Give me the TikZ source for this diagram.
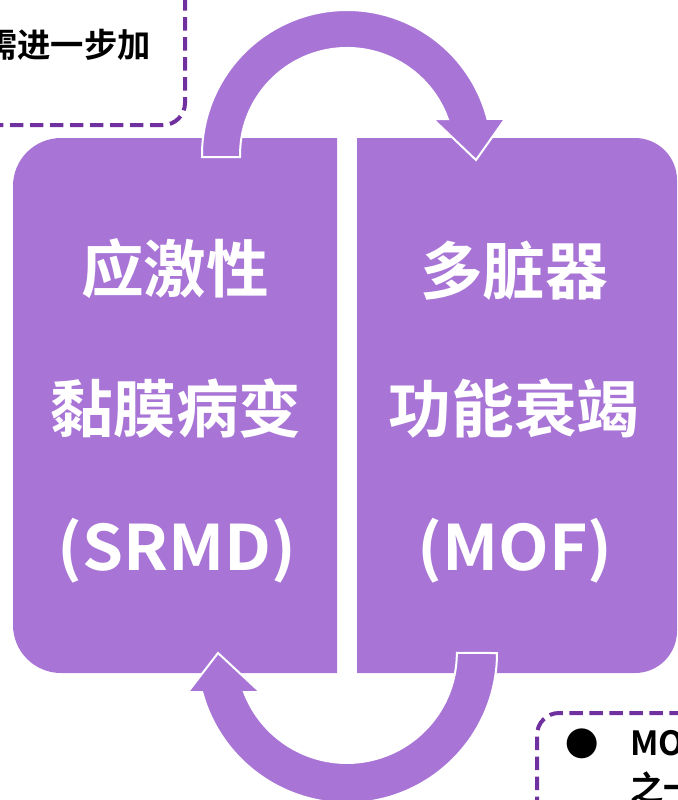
\documentclass[tikz,border=0pt]{standalone}
\usepackage{fontspec}
\newfontfamily\cjk{Noto Sans CJK SC}[BoldFont={Noto Sans CJK SC Bold}]
\definecolor{boxpurple}{HTML}{A875D6}
\definecolor{dashpurple}{HTML}{7030A0}
\begin{document}
\begin{tikzpicture}[x=0.75pt,y=-0.75pt,
  panel/.style={fill=boxpurple},
  cyclearrow/.style={fill=boxpurple,draw=white,line width=1.5pt,line join=miter},
  callout/.style={draw=dashpurple,line width=3pt,dash pattern=on 10pt off 5pt},
  bigtext/.style={text=white,font=\cjk\bfseries\fontsize{47}{50}\selectfont,inner sep=0pt},
  notetext/.style={text=black,font=\cjk\bfseries\fontsize{25}{28}\selectfont,inner sep=0pt}]
\useasboundingbox (0,0) rectangle (678,800);
\clip (0,0) rectangle (678,800);
% panels
\path[panel] (337,138) -- (61,138) arc[start angle=270,end angle=180,radius=48]
  -- (13,625) arc[start angle=180,end angle=90,radius=48] -- (337,673) -- cycle;
\path[panel] (357,138) -- (635,138) arc[start angle=270,end angle=360,radius=42]
  -- (677,631) arc[start angle=0,end angle=90,radius=42] -- (357,673) -- cycle;
% cycle arrows
\path[cyclearrow] (202,157) -- (202,155) arc[start angle=180,end angle=345.6,radius=145]
  -- (505,119) -- (476,160) -- (433,119) -- (447.8,119)
  arc[start angle=340.35,end angle=180,radius=107] -- (240,157) -- cycle;
\path[cyclearrow] (497,653) arc[start angle=0,end angle=164.9,radius=150]
  -- (188,692) -- (218,653) -- (260,692) -- (244,692)
  arc[start angle=159.2,end angle=0,radius=110] -- cycle;
% callouts
\draw[callout] (-10,125) -- (163,125) arc[start angle=90,end angle=0,radius=22] -- (185,-10);
\draw[callout] (537,810) -- (537,735) arc[start angle=180,end angle=270,radius=22] -- (690,713);
% texts
\node[notetext,anchor=base east] (tl) at (151,57) {需进一步加};
\node[notetext,anchor=center] (bul) at (582,744) {●};
\node[notetext,anchor=base west] (br1) at (630,755) {MOF};
\node[notetext,anchor=base west] (br2) at (630,800) {之一};
\node[bigtext,anchor=base] (l1) at (175,292) {应激性};
\node[bigtext,anchor=base] (l2) at (176,432) {黏膜病变};
\node[bigtext,anchor=base] (l3) at (177,570) {\scalebox{1.05}[1]{(SRMD)}};
\node[bigtext,anchor=base] (r1) at (514,294) {多脏器};
\node[bigtext,anchor=base] (r2) at (514,432) {功能衰竭};
\node[bigtext,anchor=base] (r3) at (515,570) {\scalebox{1.05}[1]{(MOF)}};
\end{tikzpicture}
\end{document}
